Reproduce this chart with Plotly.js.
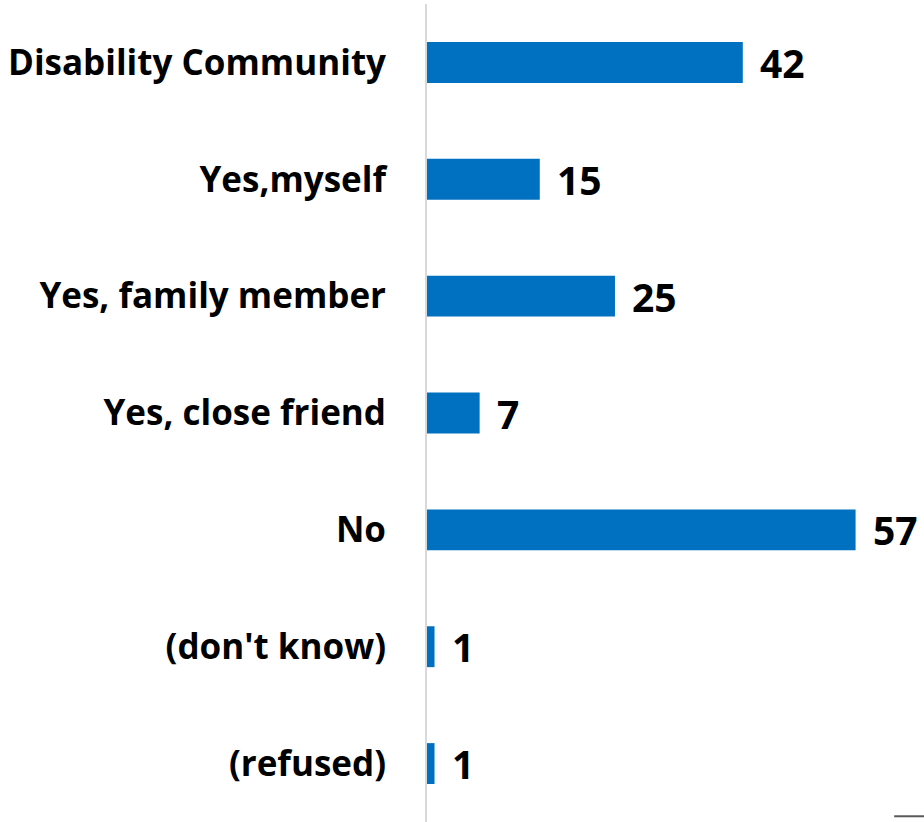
<!DOCTYPE html>
<html>
<head>
<meta charset="utf-8">
<script src="https://cdn.plot.ly/plotly-3.0.1.min.js"></script>
<style>html,body{margin:0;padding:0;background:#fff;}#chart{width:924px;height:822px;}</style>
</head>
<body>
<div id="chart"></div>
<script>
const categories = ["Disability Community", "Yes,myself", "Yes, family member", "Yes, close friend", "No", "(don't know)", "(refused)"];
const values = [42, 15, 25, 7, 57, 1, 1];
const valueLabels = ["42", "15", "25", "7", "57", "1", "1"];

const FONT = "Open Sans, Noto Sans, sans-serif";

const trace = {
  type: "bar",
  orientation: "h",
  x: values,
  y: categories,
  marker: {color: "#0070C0"},
  hoverinfo: "none"
};

const annotations = categories.map((c, i) => ({
  x: values[i], y: c, xref: "x", yref: "y",
  text: "<b>" + valueLabels[i] + "</b>",
  showarrow: false, xanchor: "left", yanchor: "middle", xshift: 15,
  font: {family: FONT, size: 39, color: "#000"}
}));

const layout = {
  width: 924, height: 822,
  margin: {l: 427, r: 0, t: 4, b: 0},
  paper_bgcolor: "#fff", plot_bgcolor: "#fff",
  bargap: 0.65,
  showlegend: false,
  xaxis: {range: [0, 66.1], visible: false, showgrid: false, zeroline: false, fixedrange: true},
  yaxis: {
    autorange: "reversed", showgrid: false, zeroline: false,
    showline: true, linecolor: "#D9D9D9", linewidth: 2,
    ticks: "", ticklabelstandoff: 32,
    tickfont: {family: FONT, size: 35, color: "#000", weight: "bold"}
  },
  annotations: annotations,
  shapes: [{type: "line", xref: "paper", yref: "paper", x0: 0.94, x1: 1.0, y0: 0.007, y1: 0.007,
            line: {color: "#595959", width: 2}}]
};

Plotly.newPlot("chart", [trace], layout, {displayModeBar: false, staticPlot: true});
</script>
</body>
</html>
